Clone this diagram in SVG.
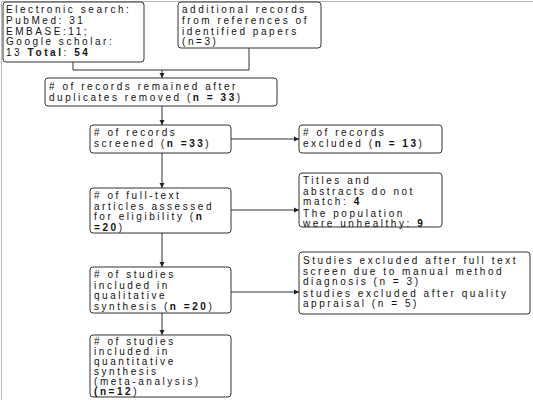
<svg xmlns="http://www.w3.org/2000/svg" width="533" height="400" viewBox="0 0 533 400">
<style>
.b{fill:#fff;stroke:#333;stroke-width:1}
.t{font-family:"Liberation Sans",Arial,sans-serif;font-size:10px;letter-spacing:2.55px;fill:#111}
.c{fill:none;stroke:#333;stroke-width:1}
.k{font-weight:bold}
.n{font-weight:normal}
</style>
<defs>
<marker id="a" markerWidth="6" markerHeight="6" refX="5" refY="3" orient="auto" markerUnits="userSpaceOnUse">
<path d="M0,0.5 L5,3 L0,5.5 z" fill="#222"/>
</marker>
</defs>
<rect width="533" height="400" fill="#fff"/>
<path d="M1.5,400 V1.5 H533" fill="none" stroke="#bbb" stroke-width="1"/>
<g id="connectors">
<path class="c" d="M73,62 V70 H249 V48"/>
<path class="c" d="M162,70 V78" marker-end="url(#a)"/>
<path class="c" d="M162,106 V125" marker-end="url(#a)"/>
<path class="c" d="M231,139 H299" marker-end="url(#a)"/>
<path class="c" d="M162,153 V188" marker-end="url(#a)"/>
<path class="c" d="M231,210 H299" marker-end="url(#a)"/>
<path class="c" d="M162,233 V267" marker-end="url(#a)"/>
<path class="c" d="M231,292 H299" marker-end="url(#a)"/>
<path class="c" d="M162,313 V335" marker-end="url(#a)"/>
</g>
<g id="n1"><rect class="b" x="3" y="2" width="141" height="60" rx="3"/>
<text class="t"><tspan x="6" y="13">Electronic search:</tspan><tspan x="6" y="24">PubMed: 31</tspan><tspan x="6" y="34.5">EMBASE:11;</tspan><tspan x="6" y="45">Google scholar:</tspan><tspan x="6" y="56">13 <tspan class="k">Total</tspan>: <tspan class="k">54</tspan></tspan></text></g>
<g id="n2"><rect class="b" x="178" y="2" width="143" height="46" rx="3"/>
<text class="t"><tspan x="182" y="13">additional records</tspan><tspan x="182" y="24">from references of</tspan><tspan x="182" y="34.5">identified papers</tspan><tspan x="182" y="45">(n=3)</tspan></text></g>
<g id="n3"><rect class="b" x="45" y="78" width="232" height="28" rx="3"/>
<text class="t"><tspan x="49" y="90"># of records remained after</tspan><tspan x="49" y="101">duplicates removed (<tspan class="k">n = 33</tspan>)</tspan></text></g>
<g id="n4"><rect class="b" x="90" y="125" width="141" height="28" rx="3"/>
<text class="t"><tspan x="94" y="136"># of records</tspan><tspan x="94" y="147">screened (<tspan class="k">n =33</tspan>)</tspan></text></g>
<g id="n5"><rect class="b" x="299" y="125" width="143" height="28" rx="3"/>
<text class="t"><tspan x="303" y="136"># of records</tspan><tspan x="303" y="147">excluded (<tspan class="k">n = 13</tspan>)</tspan></text></g>
<g id="n6"><rect class="b" x="90" y="188" width="141" height="45" rx="3"/>
<text class="t"><tspan x="94" y="199"># of full-text</tspan><tspan x="94" y="209.5">articles assessed</tspan><tspan x="94" y="220">for eligibility (<tspan class="k">n</tspan></tspan><tspan x="94" y="230.5" class="k">=20<tspan class="n">)</tspan></tspan></text></g>
<g id="n7"><rect class="b" x="299" y="173" width="143" height="54" rx="3"/>
<text class="t"><tspan x="303" y="184">Titles and</tspan><tspan x="303" y="194.5">abstracts do not</tspan><tspan x="303" y="205">match: <tspan class="k">4</tspan></tspan><tspan x="303" y="216.5">The population</tspan><tspan x="303" y="227">were unhealthy: <tspan class="k">9</tspan></tspan></text></g>
<g id="n8"><rect class="b" x="90" y="267" width="141" height="46" rx="3"/>
<text class="t"><tspan x="94" y="278"># of studies</tspan><tspan x="94" y="288.5">included in</tspan><tspan x="94" y="299">qualitative</tspan><tspan x="94" y="309.5">synthesis (<tspan class="k">n =20</tspan>)</tspan></text></g>
<g id="n9"><rect class="b" x="299" y="252" width="231" height="62" rx="3"/>
<text class="t"><tspan x="303" y="264">Studies excluded after full text</tspan><tspan x="303" y="274.5">screen due to manual method</tspan><tspan x="303" y="285">diagnosis (n = 3)</tspan><tspan x="303" y="296.5">studies excluded after quality</tspan><tspan x="303" y="307">appraisal (n = 5)</tspan></text></g>
<g id="n10"><rect class="b" x="90" y="335" width="141" height="62" rx="3"/>
<text class="t"><tspan x="94" y="345"># of studies</tspan><tspan x="94" y="355">included in</tspan><tspan x="94" y="365">quantitative</tspan><tspan x="94" y="375">synthesis</tspan><tspan x="94" y="385">(meta-analysis)</tspan><tspan x="94" y="395" class="k">(n=12<tspan class="n">)</tspan></tspan></text></g>
</svg>
